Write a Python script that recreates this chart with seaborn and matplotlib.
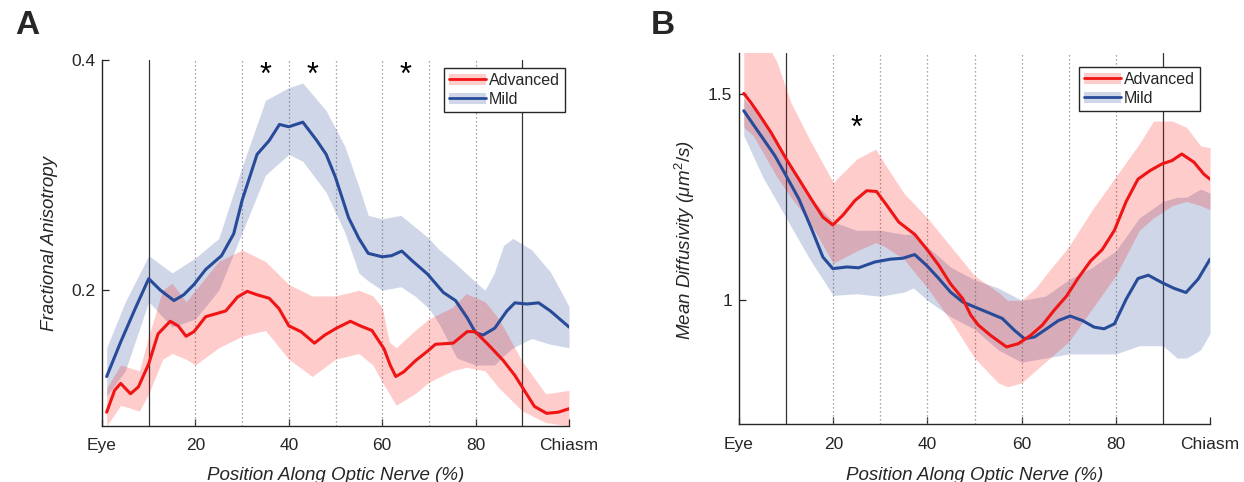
import matplotlib
matplotlib.use('Agg')
import matplotlib.pyplot as plt
from matplotlib.patches import Patch
from matplotlib.lines import Line2D
import seaborn as sns

# ---- Panel A : Fractional Anisotropy ----
fa_mild_x = [1, 4, 7, 10, 12.5, 15.4, 17.5, 19.7, 22.2, 25.6, 28.2, 30, 33.2, 35.8, 38, 40, 43, 46, 48, 50,
             52.8, 55, 57, 60, 62, 64.2, 66.3, 69.7, 73.1, 75.7, 78.2, 80, 81.6, 84.1, 86.7, 88.4, 91, 93.5, 96, 100]
fa_mild = [0.125, 0.155, 0.183, 0.210, 0.200, 0.191, 0.196, 0.205, 0.218, 0.230, 0.249, 0.278, 0.318, 0.330,
           0.344, 0.342, 0.346, 0.330, 0.318, 0.298, 0.263, 0.245, 0.232, 0.229, 0.230, 0.234, 0.226, 0.214,
           0.198, 0.191, 0.176, 0.163, 0.161, 0.167, 0.182, 0.189, 0.188, 0.189, 0.182, 0.168]
fa_mild_band_x = [1, 5, 10, 15, 20, 25, 30, 35, 40, 43, 48, 52, 55, 57, 60, 64, 67, 70, 72, 76, 80, 82, 84,
                  86, 88, 92, 96, 100]
fa_mild_hi = [0.150, 0.190, 0.230, 0.215, 0.228, 0.245, 0.307, 0.365, 0.376, 0.380, 0.356, 0.325, 0.290,
              0.265, 0.262, 0.265, 0.255, 0.245, 0.236, 0.222, 0.207, 0.200, 0.215, 0.239, 0.245, 0.235,
              0.216, 0.186]
fa_mild_lo = [0.108, 0.130, 0.190, 0.168, 0.175, 0.200, 0.250, 0.300, 0.318, 0.312, 0.285, 0.250, 0.215,
              0.208, 0.200, 0.203, 0.195, 0.184, 0.172, 0.141, 0.135, 0.135, 0.135, 0.143, 0.150, 0.158,
              0.153, 0.150]

fa_adv_x = [1, 2.7, 4, 6.1, 7.8, 10, 12, 14.6, 16.3, 18, 19.7, 22.2, 24.8, 26.5, 29, 31.1, 33.2, 35.8, 37.9,
            40, 42.6, 45.5, 47.7, 50.2, 53.2, 55.3, 57.8, 60.4, 61.7, 62.9, 64.6, 67.2, 69.7, 71.4, 75.2,
            78.2, 79.9, 82.4, 85.9, 88.4, 90.1, 92.6, 95.2, 97.7, 100]
fa_adv = [0.094, 0.113, 0.119, 0.110, 0.116, 0.136, 0.162, 0.173, 0.169, 0.160, 0.164, 0.177, 0.180, 0.182,
          0.194, 0.199, 0.196, 0.193, 0.184, 0.169, 0.164, 0.154, 0.161, 0.167, 0.173, 0.169, 0.165, 0.149,
          0.135, 0.125, 0.129, 0.139, 0.147, 0.153, 0.154, 0.164, 0.164, 0.154, 0.139, 0.126, 0.115, 0.099,
          0.093, 0.094, 0.097]
fa_adv_band_x = [1, 4, 8, 10, 13, 15, 18, 20, 25, 30, 35, 40, 45, 50, 55, 58, 60, 61.5, 63, 67, 70, 75, 78,
                 82, 85, 90, 95, 100]
fa_adv_hi = [0.115, 0.135, 0.130, 0.160, 0.200, 0.206, 0.190, 0.200, 0.225, 0.235, 0.225, 0.205, 0.195,
             0.195, 0.200, 0.195, 0.185, 0.155, 0.150, 0.165, 0.175, 0.185, 0.197, 0.190, 0.175, 0.138,
             0.110, 0.113]
fa_adv_lo = [0.082, 0.100, 0.095, 0.110, 0.140, 0.145, 0.140, 0.135, 0.150, 0.160, 0.165, 0.140, 0.125,
             0.140, 0.145, 0.135, 0.120, 0.110, 0.100, 0.110, 0.120, 0.130, 0.133, 0.130, 0.115, 0.095,
             0.085, 0.082]
fa_stars = [35, 45, 65]

# ---- Panel B : Mean Diffusivity ----
md_adv_x = [1, 2.5, 4.2, 6.8, 10, 12.7, 15.3, 17.8, 19.9, 22, 24.6, 27.1, 29.2, 31.4, 33.9, 37.3, 39.8, 42.4,
            44.9, 47.5, 49.2, 50.8, 53.4, 56.8, 59.3, 61.9, 64.4, 66.9, 69.5, 72, 74.6, 77.1, 79.7, 82.2,
            84.7, 87.3, 89.8, 91.9, 94, 96.6, 98.7, 100]
md_adv = [1.502, 1.48, 1.452, 1.407, 1.343, 1.294, 1.246, 1.202, 1.183, 1.206, 1.242, 1.266, 1.264, 1.23,
          1.19, 1.160, 1.125, 1.085, 1.04, 1.004, 0.964, 0.94, 0.915, 0.887, 0.895, 0.915, 0.94, 0.976,
          1.01, 1.054, 1.095, 1.123, 1.17, 1.24, 1.294, 1.315, 1.331, 1.339, 1.355, 1.335, 1.306, 1.294]
md_adv_band_x = [1, 3, 6, 8, 11, 15, 20, 25, 29, 31, 35, 40, 45, 50, 55, 57, 60, 63, 65, 70, 75, 80, 85,
                 88, 92, 95, 98, 100]
md_adv_hi = [1.65, 1.65, 1.62, 1.58, 1.48, 1.39, 1.286, 1.343, 1.367, 1.33, 1.26, 1.2, 1.13, 1.06, 1.02,
             1.0, 1.0, 1.03, 1.06, 1.13, 1.22, 1.30, 1.38, 1.435, 1.435, 1.42, 1.375, 1.37]
md_adv_lo = [1.42, 1.40, 1.34, 1.30, 1.25, 1.19, 1.09, 1.12, 1.14, 1.13, 1.1, 1.03, 0.95, 0.86, 0.80,
             0.79, 0.80, 0.83, 0.85, 0.90, 0.98, 1.06, 1.17, 1.2, 1.23, 1.24, 1.23, 1.22]

md_mild_x = [1, 4.2, 7.6, 10.2, 12.7, 15.3, 17.8, 19.9, 22.9, 25.4, 28.8, 32.2, 34.7, 37.3, 39.8, 42.4,
             44.9, 47.5, 50, 53.4, 55.9, 58.5, 60.6, 62.7, 65.3, 67.8, 70.3, 72.9, 75.4, 77.5, 79.7, 82.2,
             84.7, 86.9, 89.8, 92.4, 94.9, 97.5, 100]
md_mild = [1.46, 1.407, 1.351, 1.298, 1.246, 1.176, 1.105, 1.077, 1.081, 1.079, 1.093, 1.1, 1.102, 1.111,
           1.085, 1.053, 1.02, 0.996, 0.984, 0.968, 0.956, 0.927, 0.907, 0.911, 0.931, 0.951, 0.962, 0.951,
           0.935, 0.931, 0.943, 1.003, 1.053, 1.061, 1.043, 1.029, 1.019, 1.052, 1.1]
md_mild_band_x = [1, 5, 10, 15, 20, 25, 30, 35, 37, 40, 45, 50, 55, 60, 65, 70, 75, 80, 85, 90, 93, 95,
                  98, 100]
md_mild_hi = [1.49, 1.44, 1.35, 1.25, 1.19, 1.17, 1.17, 1.16, 1.16, 1.13, 1.08, 1.05, 1.03, 1.0, 1.01, 1.05,
              1.08, 1.12, 1.2, 1.24, 1.25, 1.25, 1.27, 1.26]
md_mild_lo = [1.40, 1.30, 1.20, 1.10, 1.012, 1.016, 1.01, 1.02, 1.03, 1.0, 0.96, 0.93, 0.88, 0.85, 0.86,
              0.87, 0.87, 0.87, 0.89, 0.89, 0.86, 0.86, 0.88, 0.92]
md_stars = [25]

xticks = [0, 20, 40, 60, 80, 100]
xticklabels = ['Eye', '20', '40', '60', '80', 'Chiasm']

RED = '#f01414'
BLUE = '#284b99'
BAND_RED = '#ff0000'
BAND_BLUE = '#33549e'
AXC = '#262626'

sns.set_style('ticks')
plt.rcParams['font.family'] = ['Liberation Sans', 'DejaVu Sans']
plt.rcParams['mathtext.fontset'] = 'custom'
plt.rcParams['mathtext.rm'] = 'Liberation Sans'
plt.rcParams['mathtext.it'] = 'Liberation Sans:italic'

fig = plt.figure(figsize=(12.44, 4.82), dpi=100)
axA = fig.add_axes([0.082, 0.1162, 0.3754, 0.7593])
axB = fig.add_axes([0.5941, 0.1203, 0.3786, 0.7697])


def style_axes(ax, ylim, yticks, yticklabels, ylabel):
    ax.set_xlim(0, 100)
    ax.set_ylim(*ylim)
    # vertical guides
    for xv in [10, 90]:
        ax.axvline(xv, color='#333333', lw=0.9, zorder=1)
    for xv in range(20, 90, 10):
        ax.axvline(xv, color='#888888', lw=0.9, ls=(0, (1, 2.2)), zorder=1)
    ax.set_xticks(xticks)
    ax.set_xticklabels(xticklabels)
    ax.set_yticks(yticks)
    ax.set_yticklabels(yticklabels)
    ax.tick_params(direction='in', length=5, width=0.9, colors=AXC, labelsize=12.5)
    ax.tick_params(axis='x', pad=9)
    ax.tick_params(axis='y', pad=5)
    for s in ['top', 'right']:
        ax.spines[s].set_visible(False)
    for s in ['left', 'bottom']:
        ax.spines[s].set_color(AXC)
        ax.spines[s].set_linewidth(1.0)
    ax.set_xlabel('Position Along Optic Nerve (%)', fontsize=13.5, style='italic', color=AXC)
    ax.set_ylabel(ylabel, fontsize=13.5, style='italic', color=AXC)


def draw_series(ax, bx, lo, hi, x, y, line_c, band_c, alpha):
    ax.fill_between(bx, lo, hi, color=band_c, alpha=alpha, lw=0, zorder=2)
    sns.lineplot(x=x, y=y, ax=ax, color=line_c, lw=2.2, sort=False, estimator=None, zorder=4)


# Panel A
draw_series(axA, fa_mild_band_x, fa_mild_lo, fa_mild_hi, fa_mild_x, fa_mild, BLUE, BAND_BLUE, 0.24)
draw_series(axA, fa_adv_band_x, fa_adv_lo, fa_adv_hi, fa_adv_x, fa_adv, RED, BAND_RED, 0.2)
style_axes(axA, (0.082, 0.4), [0.2, 0.4], ['0.2', '0.4'], 'Fractional Anisotropy')
axA.yaxis.set_label_coords(-0.095, 0.5)
axA.xaxis.set_label_coords(0.5, -0.112)
for xs in fa_stars:
    axA.text(xs, 0.386, '*', ha='center', va='center', fontsize=22, color='black')

# Panel B
draw_series(axB, md_mild_band_x, md_mild_lo, md_mild_hi, md_mild_x, md_mild, BLUE, BAND_BLUE, 0.24)
draw_series(axB, md_adv_band_x, md_adv_lo, md_adv_hi, md_adv_x, md_adv, RED, BAND_RED, 0.2)
style_axes(axB, (0.7, 1.6), [1, 1.5], ['1', '1.5'], r'Mean Diffusivity ($\mu m^2/s$)')
axB.yaxis.set_label_coords(-0.09, 0.496)
axB.xaxis.set_label_coords(0.5, -0.116)
for xs in md_stars:
    axB.text(xs, 1.415, '*', ha='center', va='center', fontsize=22, color='black')

# legends
for ax, anchor in [(axA, (0.991, 0.978)), (axB, (0.978, 0.962))]:
    handles = [(Patch(facecolor=BAND_RED, alpha=0.2, lw=0), Line2D([], [], color=RED, lw=2)),
               (Patch(facecolor=BAND_BLUE, alpha=0.24, lw=0), Line2D([], [], color=BLUE, lw=2))]
    leg = ax.legend(handles, ['Advanced', 'Mild'], loc='upper right', bbox_to_anchor=anchor,
                    fancybox=False, framealpha=1, edgecolor=AXC, fontsize=11.5, handlelength=2.3,
                    handletextpad=0.2, borderpad=0.3, labelspacing=0.25, borderaxespad=0)
    leg.get_frame().set_linewidth(1.0)

fig.text(0.012, 0.93, 'A', fontsize=24, fontweight='bold')
fig.text(0.523, 0.93, 'B', fontsize=24, fontweight='bold')

fig.savefig('out.png', dpi=100)
